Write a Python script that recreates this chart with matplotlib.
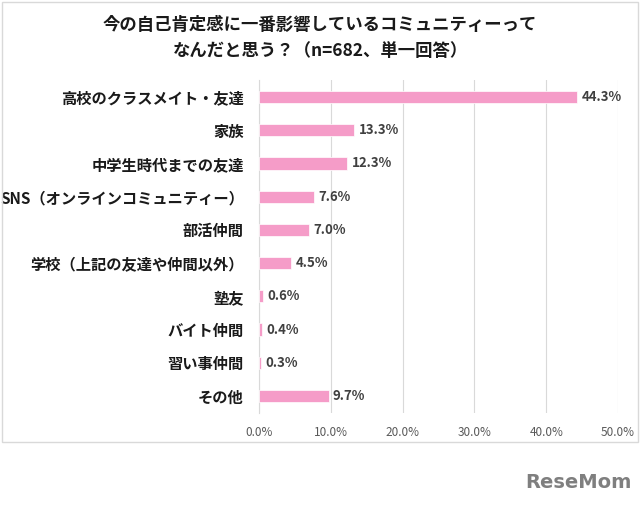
import numpy as np
import matplotlib.pyplot as plt
from matplotlib.patches import Rectangle

plt.rcParams['font.family'] = ['Noto Sans CJK JP', 'DejaVu Sans']

# data (top to bottom)
categories = ['高校のクラスメイト・友達', '家族', '中学生時代までの友達',
              'SNS（オンラインコミュニティー）', '部活仲間',
              '学校（上記の友達や仲間以外）', '塾友', 'バイト仲間',
              '習い事仲間', 'その他']
values = [44.3, 13.3, 12.3, 7.6, 7.0, 4.5, 0.6, 0.4, 0.3, 9.7]
ticks = [0, 10, 20, 30, 40, 50]

fig = plt.figure(figsize=(6.4, 5.07), dpi=100)

# outer frame
fig.patches.append(Rectangle((2 / 640, 1 - 442 / 507), 636 / 640, 440 / 507,
                             transform=fig.transFigure, fill=False,
                             edgecolor='#D9D9D9', linewidth=1))

ax = fig.add_axes([0.4047, 0.1862, 0.5609, 0.6552])
y = np.arange(len(categories))
ax.barh(y, values, height=0.37, color='#F59CC8', edgecolor='white',
        linewidth=0.5, zorder=3)
for yi, v in zip(y, values):
    ax.text(v + 0.6, yi, f'{v:.1f}%', va='center', ha='left',
            fontsize=9.5, fontweight='bold', color='#404040')

ax.set_xlim(0, 50)
ax.set_ylim(len(categories) - 0.5, -0.5)
ax.set_xticks(ticks)
ax.set_xticklabels([f'{t:.1f}%' for t in ticks], fontsize=8.5, color='#595959')
ax.set_yticks(y)
ax.set_yticklabels(categories, fontsize=11, fontweight='bold', color='#1a1a1a')
ax.tick_params(axis='both', length=0)
ax.tick_params(axis='y', pad=11)
ax.tick_params(axis='x', pad=10)
ax.grid(axis='x', color='#D9D9D9', linewidth=0.8, zorder=0)
for s in ['top', 'right', 'bottom']:
    ax.spines[s].set_visible(False)
ax.spines['left'].set_color('#D9D9D9')

fig.text(0.5, 1 - 25 / 507, '今の自己肯定感に一番影響しているコミュニティーって',
         ha='center', va='center', fontsize=12.5, fontweight='bold', color='#1a1a1a')
fig.text(0.5, 1 - 51 / 507, 'なんだと思う？（n=682、単一回答）',
         ha='center', va='center', fontsize=12.5, fontweight='bold', color='#1a1a1a')

fig.text(578 / 640, 1 - 482 / 507, 'ReseMom', ha='center', va='center',
         fontsize=14, fontweight='bold', color='#7f7f7f', family='DejaVu Sans')

fig.savefig('out.png', dpi=100, facecolor='white')
